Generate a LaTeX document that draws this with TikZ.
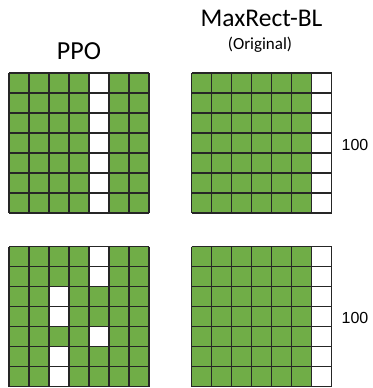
\documentclass[tikz,border=0pt]{standalone}
\usepackage{fontspec}
\newfontfamily\titlefont{Carlito}
\newfontfamily\numfont{Liberation Sans}
\definecolor{cellgreen}{RGB}{112,173,71}
\begin{document}
\begin{tikzpicture}[x=1pt,y=-1pt,
  gridline/.style={draw=black!85,line width=1.1pt},
  titletext/.style={inner sep=0pt,anchor=base,text=black},
  numtext/.style={inner sep=0pt,anchor=base west,text=black}]
\useasboundingbox (0,0) rectangle (372,388);
% top-left
\fill[cellgreen] (9,73) rectangle ++(140,140);
\foreach \r in {0,...,6} \fill[white] (9+4*20,73+\r*20) rectangle ++(20,20);
% top-right
\fill[cellgreen] (191.5,73) rectangle ++(140,140);
\foreach \r in {0,...,6} \fill[white] (191.5+6*20,73+\r*20) rectangle ++(20,20);
% bottom-left
\fill[cellgreen] (9,246.5) rectangle ++(140,140);
\foreach \c/\r in {4/0,4/1,2/2,2/3,4/4,2/5,2/6}
  \fill[white] (9+\c*20,246.5+\r*20) rectangle ++(20,20);
% bottom-right
\fill[cellgreen] (191.5,246.5) rectangle ++(140,140);
\foreach \r in {0,...,6} \fill[white] (191.5+6*20,246.5+\r*20) rectangle ++(20,20);
% grid lines
\foreach \gx/\gy in {9/73,191.5/73,9/246.5,191.5/246.5}
  \foreach \k in {0,...,7} {
    \draw[gridline] (\gx+\k*20,\gy) -- (\gx+\k*20,\gy+140);
    \draw[gridline] (\gx,\gy+\k*20) -- (\gx+140,\gy+\k*20);
  }
% texts
\node[titletext,font=\titlefont\fontsize{26}{30}\selectfont] (ppo) at (79,59) {PPO};
\node[titletext,font=\titlefont\fontsize{25.5}{30}\selectfont] (maxrect) at (261.5,26) {MaxRect-BL};
\node[titletext,font=\titlefont\fontsize{17}{20}\selectfont] (orig) at (260,49) {(Original)};
\node[numtext,font=\numfont\fontsize{16}{20}\selectfont] (n1) at (341.5,150) {100};
\node[numtext,font=\numfont\fontsize{16}{20}\selectfont] (n2) at (341.5,323.5) {100};
\end{tikzpicture}
\end{document}
